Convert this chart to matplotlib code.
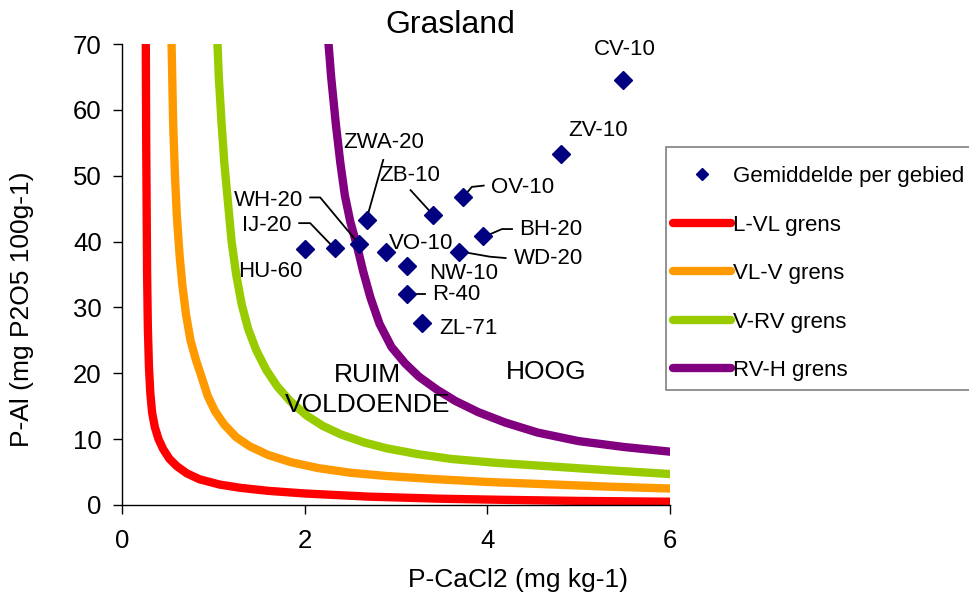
import matplotlib
matplotlib.use("Agg")
import matplotlib.pyplot as plt
from matplotlib.patches import Rectangle

plt.rcParams['font.family'] = ['Liberation Sans', 'DejaVu Sans']

# Average per area: P-CaCl2 (x) and P-Al (y)
areas = ["HU-60", "IJ-20", "WH-20", "ZWA-20", "VO-10", "NW-10", "R-40",
         "ZL-71", "ZB-10", "WD-20", "OV-10", "BH-20", "ZV-10", "CV-10"]
p_cacl2 = [2.00, 2.33, 2.60, 2.68, 2.89, 3.12, 3.12, 3.28, 3.41, 3.69, 3.73, 3.95, 4.81, 5.49]
p_al = [38.9, 39.0, 39.6, 43.2, 38.4, 36.3, 32.0, 27.7, 44.0, 38.4, 46.7, 40.8, 53.3, 64.6]

# Label anchor positions (data units) for each area
label_x = [1.62, 1.58, 1.60, 2.87, 3.28, 3.74, 3.66, 3.79, 3.15, 4.67, 4.39, 4.69, 5.21, 5.51]
label_y = [35.4, 42.5, 46.3, 55.0, 39.7, 35.1, 31.9, 26.8, 50.1, 37.5, 48.2, 41.8, 56.9, 69.1]

# Leader lines from labels to their points
leaders = {
    "ZWA-20": ([2.86, 2.68], [52.4, 43.5]),
    "ZB-10": ([3.16, 3.39], [47.8, 44.3]),
    "WH-20": ([2.06, 2.17, 2.59], [46.7, 46.7, 39.7]),
    "IJ-20": ([1.94, 2.06, 2.31], [42.8, 42.8, 39.2]),
    "R-40": ([3.13, 3.32], [32.0, 32.0]),
    "OV-10": ([3.96, 3.83, 3.74], [48.5, 48.3, 46.8]),
    "BH-20": ([4.27, 4.16, 3.96], [41.9, 41.9, 40.7]),
    "WD-20": ([4.20, 4.03, 3.70], [37.5, 37.7, 38.5]),
}

# Class boundaries (P-CaCl2, P-Al)
l_vl_x = [0.26, 0.262, 0.265, 0.27, 0.275, 0.283, 0.295, 0.31, 0.33, 0.36, 0.40, 0.45,
          0.52, 0.60, 0.71, 0.85, 1.07, 1.30, 1.60, 2.00, 2.70, 3.50, 4.20, 5.00, 6.00]
l_vl_y = [72, 65, 55, 45, 35, 27, 21, 17, 14, 11.8, 10.0, 8.5,
          7.0, 5.9, 4.8, 3.9, 3.1, 2.6, 2.15, 1.75, 1.27, 0.95, 0.78, 0.62, 0.5]

vl_v_x = [0.54, 0.55, 0.56, 0.58, 0.60, 0.63, 0.66, 0.70, 0.75, 0.81, 0.87, 0.94, 1.02,
          1.12, 1.25, 1.40, 1.60, 1.85, 2.15, 2.50, 2.90, 3.40, 4.00, 4.65, 5.30, 6.00]
vl_v_y = [72, 65, 58, 50, 44, 38, 33.5, 29, 25, 22, 19.5, 16.5, 14.2,
          12.2, 10.3, 8.9, 7.6, 6.5, 5.6, 4.9, 4.4, 3.95, 3.5, 3.15, 2.8, 2.5]

v_rv_x = [1.04, 1.06, 1.09, 1.12, 1.16, 1.20, 1.25, 1.31, 1.38, 1.47, 1.58, 1.70,
          1.84, 2.02, 2.20, 2.40, 2.65, 2.90, 3.25, 3.60, 4.10, 4.65, 5.30, 6.00]
v_rv_y = [72, 65, 58, 52, 46, 40, 35, 30.5, 26.8, 23.5, 20.5, 18.0,
          15.8, 13.6, 12.0, 10.7, 9.5, 8.6, 7.7, 7.0, 6.4, 5.9, 5.3, 4.7]

rv_h_x = [2.25, 2.29, 2.34, 2.39, 2.44, 2.50, 2.57, 2.64, 2.72, 2.82, 2.95,
          3.10, 3.25, 3.45, 3.65, 3.90, 4.20, 4.55, 5.00, 5.50, 6.00]
rv_h_y = [72, 65, 58, 52, 47, 43, 39.5, 35.5, 31.5, 27.5, 24.0,
          21.5, 19.5, 17.5, 15.8, 14.1, 12.5, 11.0, 9.7, 8.8, 8.1]

x_ticks = [0, 2, 4, 6]
y_ticks = [0, 10, 20, 30, 40, 50, 60, 70]

W, H = 970, 599
fig = plt.figure(figsize=(W / 100, H / 100), dpi=100)
ax = fig.add_axes([122 / W, 1 - 505 / H, 548 / W, 461 / H])

lw = 6.0
style = dict(lw=lw, solid_capstyle="round", solid_joinstyle="round")
ax.plot(l_vl_x, l_vl_y, color="#FF0000", label="L-VL grens", **style)
ax.plot(vl_v_x, vl_v_y, color="#FF9900", label="VL-V grens", **style)
ax.plot(v_rv_x, v_rv_y, color="#99CC00", label="V-RV grens", **style)
ax.plot(rv_h_x, rv_h_y, color="#800080", label="RV-H grens", **style)

ax.plot(p_cacl2, p_al, linestyle="none", marker="D", markersize=9.5,
        color="#000080", label="Gemiddelde per gebied", zorder=5)

for name, lx, ly in zip(areas, label_x, label_y):
    ax.text(lx, ly, name, fontsize=16, ha="center", va="center", clip_on=False, zorder=6)
for name, (xs, ys) in leaders.items():
    ax.plot(xs, ys, color="black", lw=1.3, zorder=4)

ax.text(2.69, 19.7, "RUIM", fontsize=19, ha="center", va="center")
ax.text(2.69, 15.2, "VOLDOENDE", fontsize=19, ha="center", va="center")
ax.text(4.64, 20.2, "HOOG", fontsize=19, ha="center", va="center")

ax.set_xlim(0, 6)
ax.set_ylim(0, 70)
ax.set_xticks(x_ticks)
ax.set_yticks(y_ticks)
ax.tick_params(axis="both", direction="out", length=6.5, width=1, labelsize=18.5, pad=8)
ax.tick_params(axis="x", pad=11)
for s in ("top", "right"):
    ax.spines[s].set_visible(False)
for s in ("left", "bottom"):
    ax.spines[s].set_linewidth(1)

fig.text(518 / W, 1 - 580 / H, "P-CaCl2 (mg kg-1)", fontsize=19, ha="center", va="center")
fig.text(22 / W, 1 - 309 / H, "P-Al (mg P2O5 100g-1)", fontsize=19, ha="center",
         va="center", rotation=90)
fig.text(450 / W, 1 - 25 / H, "Grasland", fontsize=23, ha="center", va="center")

# Legend frame, running off the right edge
fig.patches.append(Rectangle((666 / W, 1 - 390 / H), 320 / W, 243 / H,
                             transform=fig.transFigure, facecolor="white",
                             edgecolor="#808080", linewidth=1.2, zorder=1))

handles, labels = ax.get_legend_handles_labels()
order = [4, 0, 1, 2, 3]
leg = fig.legend([handles[i] for i in order], [labels[i] for i in order],
                 loc="upper left", bbox_to_anchor=(673 / W, 1 - 166 / H),
                 fontsize=16, frameon=False,
                 handlelength=2.6, handletextpad=0.1,
                 labelspacing=1.24, borderpad=0, borderaxespad=0, markerscale=0.6)
leg.set_zorder(2)

fig.savefig("out.png", dpi=100)
